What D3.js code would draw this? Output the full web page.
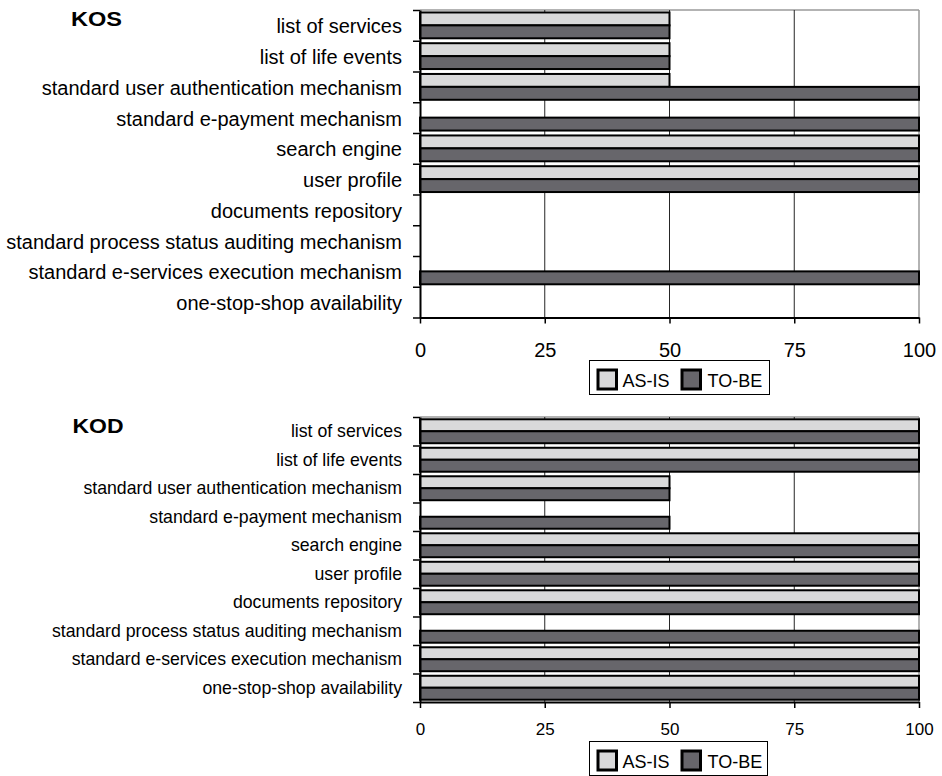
<!DOCTYPE html>
<html>
<head>
<meta charset="utf-8">
<script src="https://cdn.jsdelivr.net/npm/d3@7"></script>
<style>
  html, body { margin: 0; padding: 0; background: #fff; }
  svg { display: block; font-family: "Liberation Sans", Arial, sans-serif; }
</style>
</head>
<body>
<svg id="chart" width="942" height="776"></svg>
<script>
// Feature categories, listed top to bottom
const categories = [
  "list of services",
  "list of life events",
  "standard user authentication mechanism",
  "standard e-payment mechanism",
  "search engine",
  "user profile",
  "documents repository",
  "standard process status auditing mechanism",
  "standard e-services execution mechanism",
  "one-stop-shop availability"
];

const seriesNames = ["AS-IS", "TO-BE"];
const seriesColors = ["#d9d9da", "#67666b"];

// KOS portal
const kosAsIs = [50, 50, 50, 0, 100, 100, 0, 0, 0, 0];
const kosToBe = [50, 50, 100, 100, 100, 100, 0, 0, 100, 0];

// KOD portal
const kodAsIs = [100, 100, 50, 0, 100, 100, 100, 0, 100, 100];
const kodToBe = [100, 100, 50, 50, 100, 100, 100, 100, 100, 100];

const xTicks = [0, 25, 50, 75, 100];

const svg = d3.select("#chart");
const x = d3.scaleLinear().domain([0, 100]).range([420, 919]);

function drawPanel(opts) {
  const { title, asIs, toBe, top, bottom, labelSize, labelShift, tickSize, tickPad,
          titleX, titleY, legendBox } = opts;
  const g = svg.append("g");

  const y0 = d3.scaleBand().domain(categories).range([top, bottom])
    .paddingInner(0.16).paddingOuter(0.08);
  const y1 = d3.scaleBand().domain(seriesNames).range([0, y0.bandwidth()]);
  const yEdge = d3.scaleLinear().domain([0, categories.length]).range([top, bottom]);

  // plot frame: light top and right edges
  g.append("line").attr("x1", x(0)).attr("x2", x(100)).attr("y1", top).attr("y2", top)
    .attr("stroke", "#9a9a9a").attr("stroke-width", 1.5);
  g.append("line").attr("x1", x(100)).attr("x2", x(100)).attr("y1", top).attr("y2", bottom)
    .attr("stroke", "#9a9a9a").attr("stroke-width", 1.5);

  // vertical gridlines
  g.append("g").selectAll("line").data(xTicks.filter(d => d > 0 && d < 100)).join("line")
    .attr("x1", d => x(d)).attr("x2", d => x(d)).attr("y1", top).attr("y2", bottom)
    .attr("stroke", "#262626").attr("stroke-width", 1);

  // bars
  const rows = categories.map((c, i) => ({ c, vals: [asIs[i], toBe[i]] }));
  const rowG = g.append("g").selectAll("g").data(rows).join("g")
    .attr("transform", d => `translate(0,${y0(d.c)})`);
  rowG.selectAll("rect")
    .data(d => d.vals.map((v, k) => ({ v, s: seriesNames[k], k })).filter(e => e.v > 0))
    .join("rect")
    .attr("x", x(0))
    .attr("y", e => y1(e.s))
    .attr("width", e => x(e.v) - x(0))
    .attr("height", y1.bandwidth())
    .attr("fill", e => seriesColors[e.k])
    .attr("stroke", "#000").attr("stroke-width", 2);

  // category boundary ticks on the left axis
  g.append("g").attr("transform", `translate(${x(0)},0)`)
    .call(d3.axisLeft(yEdge).ticks(categories.length).tickValues(d3.range(categories.length + 1))
      .tickFormat("").tickSize(7).tickSizeOuter(0))
    .call(a => a.selectAll("line").attr("stroke", "#000").attr("stroke-width", 1.5))
    .call(a => a.select(".domain").attr("stroke", "#000").attr("stroke-width", 2));

  // category labels
  g.append("g").attr("transform", `translate(${x(0)},0)`)
    .call(d3.axisLeft(y0).tickSize(0).tickPadding(18))
    .call(a => a.select(".domain").remove())
    .call(a => a.selectAll("text")
      .attr("font-size", labelSize).attr("fill", "#000")
      .attr("font-family", "'Liberation Sans', Arial, sans-serif")
      .attr("dy", null).attr("y", labelShift));

  // value axis
  g.append("g").attr("transform", `translate(0,${bottom})`)
    .call(d3.axisBottom(x).tickValues(xTicks).tickSize(6).tickSizeOuter(0).tickPadding(tickPad))
    .call(a => a.select(".domain").attr("stroke", "#000").attr("stroke-width", 2))
    .call(a => a.selectAll("line").attr("stroke", "#000").attr("stroke-width", 1.5))
    .call(a => a.selectAll("text").attr("font-size", tickSize).attr("fill", "#000")
      .attr("font-family", "'Liberation Sans', Arial, sans-serif"));

  // panel title
  g.append("text").attr("x", titleX).attr("y", titleY)
    .attr("font-size", 20).attr("font-weight", "bold")
    .attr("textLength", 51).attr("lengthAdjust", "spacingAndGlyphs")
    .text(title);

  // legend
  const lg = g.append("g");
  lg.append("rect").attr("x", legendBox.x).attr("y", legendBox.y)
    .attr("width", legendBox.w).attr("height", legendBox.h)
    .attr("fill", "#fff").attr("stroke", "#000").attr("stroke-width", 1);
  const items = [{ dx: 7, tx: 33 }, { dx: 91, tx: 118 }];
  seriesNames.forEach((s, k) => {
    lg.append("rect")
      .attr("x", legendBox.x + items[k].dx + 1.5).attr("y", legendBox.y + 9.5)
      .attr("width", 18.5).attr("height", 19)
      .attr("fill", seriesColors[k]).attr("stroke", "#000").attr("stroke-width", 3);
    lg.append("text")
      .attr("x", legendBox.x + items[k].tx).attr("y", legendBox.y + 26)
      .attr("font-size", 18).attr("fill", "#000").text(s);
  });
}

drawPanel({
  title: "KOS", asIs: kosAsIs, toBe: kosToBe,
  top: 10, bottom: 317.5, labelSize: 20, labelShift: 8,
  tickSize: 20, tickPad: 19, titleX: 71, titleY: 26,
  legendBox: { x: 589.5, y: 360.5, w: 180, h: 34 }
});

drawPanel({
  title: "KOD", asIs: kodAsIs, toBe: kodToBe,
  top: 417, bottom: 702, labelSize: 17.7, labelShift: 6,
  tickSize: 17, tickPad: 15, titleX: 72.5, titleY: 432.5,
  legendBox: { x: 589.5, y: 741.5, w: 178, h: 34 }
});
</script>
</body>
</html>
